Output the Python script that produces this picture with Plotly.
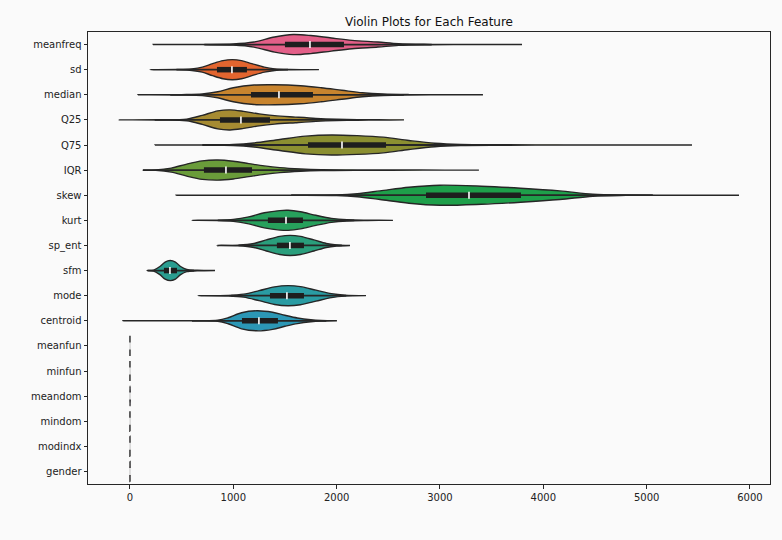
import plotly.graph_objects as go

# Feature names, top to bottom
features = ["meanfreq", "sd", "median", "Q25", "Q75", "IQR", "skew", "kurt",
            "sp_ent", "sfm", "mode", "centroid", "meanfun", "minfun",
            "meandom", "mindom", "modindx", "gender"]

# Box-plot summary per feature
whisker_lo = [720, 450, 390, 240, 700, 126, 1560, 850, 1050, 170, 980, 600,
              0.06, 0.02, 0.01, 0.0, 0.0, 0.0]
q1 = [1500, 842, 1171, 871, 1723, 716, 2865, 1335, 1422, 329, 1355, 1084,
      0.16, 0.02, 0.42, 0.01, 0.10, 0.0]
median = [1742, 987, 1442, 1074, 2052, 929, 3281, 1510, 1548, 387, 1519, 1248,
          0.14, 0.05, 0.77, 0.02, 0.14, 0.5]
q3 = [2071, 1132, 1771, 1355, 2478, 1181, 3784, 1674, 1684, 455, 1684, 1432,
      0.17, 0.05, 1.17, 0.16, 0.21, 1.0]
whisker_hi = [2920, 1530, 2650, 2050, 3600, 1860, 5060, 2170, 2050, 620, 2090, 1900,
              0.24, 0.10, 2.28, 0.38, 0.38, 1.0]

# Density profiles: (value, relative density) pairs
meanfreq_density = [(223, 0), (700, 0.01), (1000, 0.05), (1200, 0.25), (1400, 0.75),
                    (1580, 1.0), (1750, 0.9), (1950, 0.65), (2150, 0.42), (2400, 0.25),
                    (2600, 0.08), (2900, 0.02), (3300, 0.005), (3794, 0)]
sd_density = [(194, 0), (450, 0.02), (600, 0.08), (700, 0.25), (800, 0.6), (900, 0.9),
              (990, 1.0), (1080, 0.9), (1180, 0.6), (1300, 0.25), (1400, 0.08),
              (1550, 0.02), (1829, 0)]
median_density = [(77, 0), (500, 0.02), (700, 0.08), (850, 0.3), (1000, 0.7),
                  (1200, 0.97), (1400, 1.0), (1650, 0.9), (1850, 0.7), (2050, 0.45),
                  (2250, 0.2), (2450, 0.07), (2700, 0.02), (3100, 0.005), (3416, 0)]
q25_density = [(-106, 0), (300, 0.01), (550, 0.08), (700, 0.45), (850, 0.9), (970, 1.0),
               (1100, 0.85), (1250, 0.6), (1400, 0.42), (1600, 0.28), (1800, 0.15),
               (2000, 0.07), (2200, 0.03), (2400, 0.01), (2652, 0)]
q75_density = [(242, 0), (700, 0.01), (1000, 0.05), (1200, 0.2), (1450, 0.55),
               (1700, 0.88), (1950, 1.0), (2200, 0.93), (2450, 0.78), (2700, 0.45),
               (2950, 0.17), (3200, 0.05), (3600, 0.02), (4200, 0.008), (4800, 0.003),
               (5439, 0)]
iqr_density = [(126, 0), (250, 0.02), (400, 0.2), (550, 0.6), (700, 0.92), (850, 1.0),
               (1000, 0.88), (1150, 0.65), (1300, 0.42), (1450, 0.25), (1650, 0.12),
               (1850, 0.05), (2200, 0.015), (2800, 0.005), (3377, 0)]
skew_density = [(445, 0), (1500, 0.005), (2000, 0.03), (2200, 0.15), (2420, 0.43),
                (2700, 0.8), (3000, 1.0), (3400, 0.9), (3780, 0.7), (4160, 0.43),
                (4480, 0.1), (4800, 0.02), (5300, 0.005), (5894, 0)]
kurt_density = [(600, 0), (850, 0.02), (1000, 0.1), (1150, 0.35), (1300, 0.75),
                (1450, 0.97), (1530, 1.0), (1650, 0.85), (1800, 0.5), (1950, 0.2),
                (2100, 0.06), (2300, 0.015), (2545, 0)]
sp_ent_density = [(842, 0), (1050, 0.03), (1200, 0.2), (1320, 0.55), (1450, 0.9),
                  (1550, 1.0), (1650, 0.9), (1780, 0.55), (1900, 0.2), (2000, 0.06),
                  (2129, 0)]
sfm_density = [(165, 0), (230, 0.05), (290, 0.4), (340, 0.85), (390, 1.0), (440, 0.85),
               (490, 0.4), (550, 0.1), (650, 0.03), (823, 0)]
mode_density = [(658, 0), (950, 0.03), (1100, 0.15), (1250, 0.5), (1400, 0.88),
                (1530, 1.0), (1650, 0.9), (1800, 0.55), (1950, 0.2), (2080, 0.05),
                (2284, 0)]
centroid_density = [(-68, 0), (600, 0.01), (850, 0.05), (950, 0.3), (1080, 0.8),
                    (1230, 1.0), (1380, 0.85), (1500, 0.55), (1620, 0.28), (1750, 0.1),
                    (1850, 0.03), (2003, 0)]
meanfun_density = [(0.05, 0), (0.15, 1.0), (0.24, 0)]
minfun_density = [(0.01, 0), (0.05, 1.0), (0.2, 0)]
meandom_density = [(0.0, 0), (0.8, 1.0), (2.96, 0)]
mindom_density = [(0.0, 0), (0.02, 1.0), (0.46, 0)]
modindx_density = [(0.0, 0), (0.14, 1.0), (0.93, 0)]
gender_density = [(0.0, 0), (0.5, 1.0), (1.0, 0)]

density_profiles = [meanfreq_density, sd_density, median_density, q25_density,
                    q75_density, iqr_density, skew_density, kurt_density,
                    sp_ent_density, sfm_density, mode_density, centroid_density,
                    meanfun_density, minfun_density, meandom_density, mindom_density,
                    modindx_density, gender_density]

colors = ["#e35f88", "#e2652f", "#c8842e", "#a68b32", "#8b8f31", "#6a9c3a",
          "#1e9f4a", "#27a05c", "#2a9e7c", "#2a9d90", "#2a9ca3", "#2c97b5",
          "#3a8fd0", "#6e86d8", "#9a7ad8", "#c06fd0", "#d868b8", "#e0649f"]

EDGE = "#262626"
HALF_WIDTH = 0.4

fig = go.Figure()

for i, (name, prof) in enumerate(zip(features, density_profiles)):
    xs = [p[0] for p in prof]
    ws = [p[1] for p in prof]
    poly_x = xs + xs[::-1]
    poly_y = [i - HALF_WIDTH * w for w in ws] + [i + HALF_WIDTH * w for w in ws[::-1]]
    fig.add_trace(go.Scatter(
        x=poly_x, y=poly_y, mode="lines", fill="toself",
        fillcolor=colors[i], line=dict(color=EDGE, width=1.4, shape="spline", smoothing=0.9),
        hoverinfo="skip", showlegend=False, name=name))

    # whisker line
    fig.add_trace(go.Scatter(
        x=[whisker_lo[i], whisker_hi[i]], y=[i, i], mode="lines",
        line=dict(color=EDGE, width=1.8), hoverinfo="skip", showlegend=False))
    # interquartile box
    fig.add_trace(go.Scatter(
        x=[q1[i], q3[i]], y=[i, i], mode="lines",
        line=dict(color="#1e1e1e", width=5.5), hoverinfo="skip", showlegend=False))
    # median marker
    fig.add_trace(go.Scatter(
        x=[median[i]], y=[i], mode="markers",
        marker=dict(symbol="line-ns", size=5, line=dict(color="white", width=1.6)),
        hoverinfo="skip", showlegend=False))

BG = "#fafafa"
fig.update_layout(
    width=782, height=540,
    margin=dict(l=88, r=12, t=32, b=56),
    paper_bgcolor=BG, plot_bgcolor=BG,
    font=dict(family="DejaVu Sans", size=10, color="#222222"),
    title=dict(text="Violin Plots for Each Feature", x=(88 + 770) / 2 / 782,
               xanchor="center", y=1 - 21.5 / 540, yanchor="middle",
               font=dict(size=12, family="DejaVu Sans", color="#111111")),
)
fig.update_xaxes(
    range=[-406, 6194], tickvals=[0, 1000, 2000, 3000, 4000, 5000, 6000],
    showgrid=False, zeroline=False, showline=True, mirror=True,
    linecolor=EDGE, linewidth=1, ticks="outside", ticklen=3.5, tickcolor=EDGE)
fig.update_yaxes(
    range=[17.5, -0.5], tickvals=list(range(len(features))), ticktext=features,
    showgrid=False, zeroline=False, showline=True, mirror=True,
    linecolor=EDGE, linewidth=1, ticks="outside", ticklen=3.5, tickcolor=EDGE)

fig.write_html("out.html")
